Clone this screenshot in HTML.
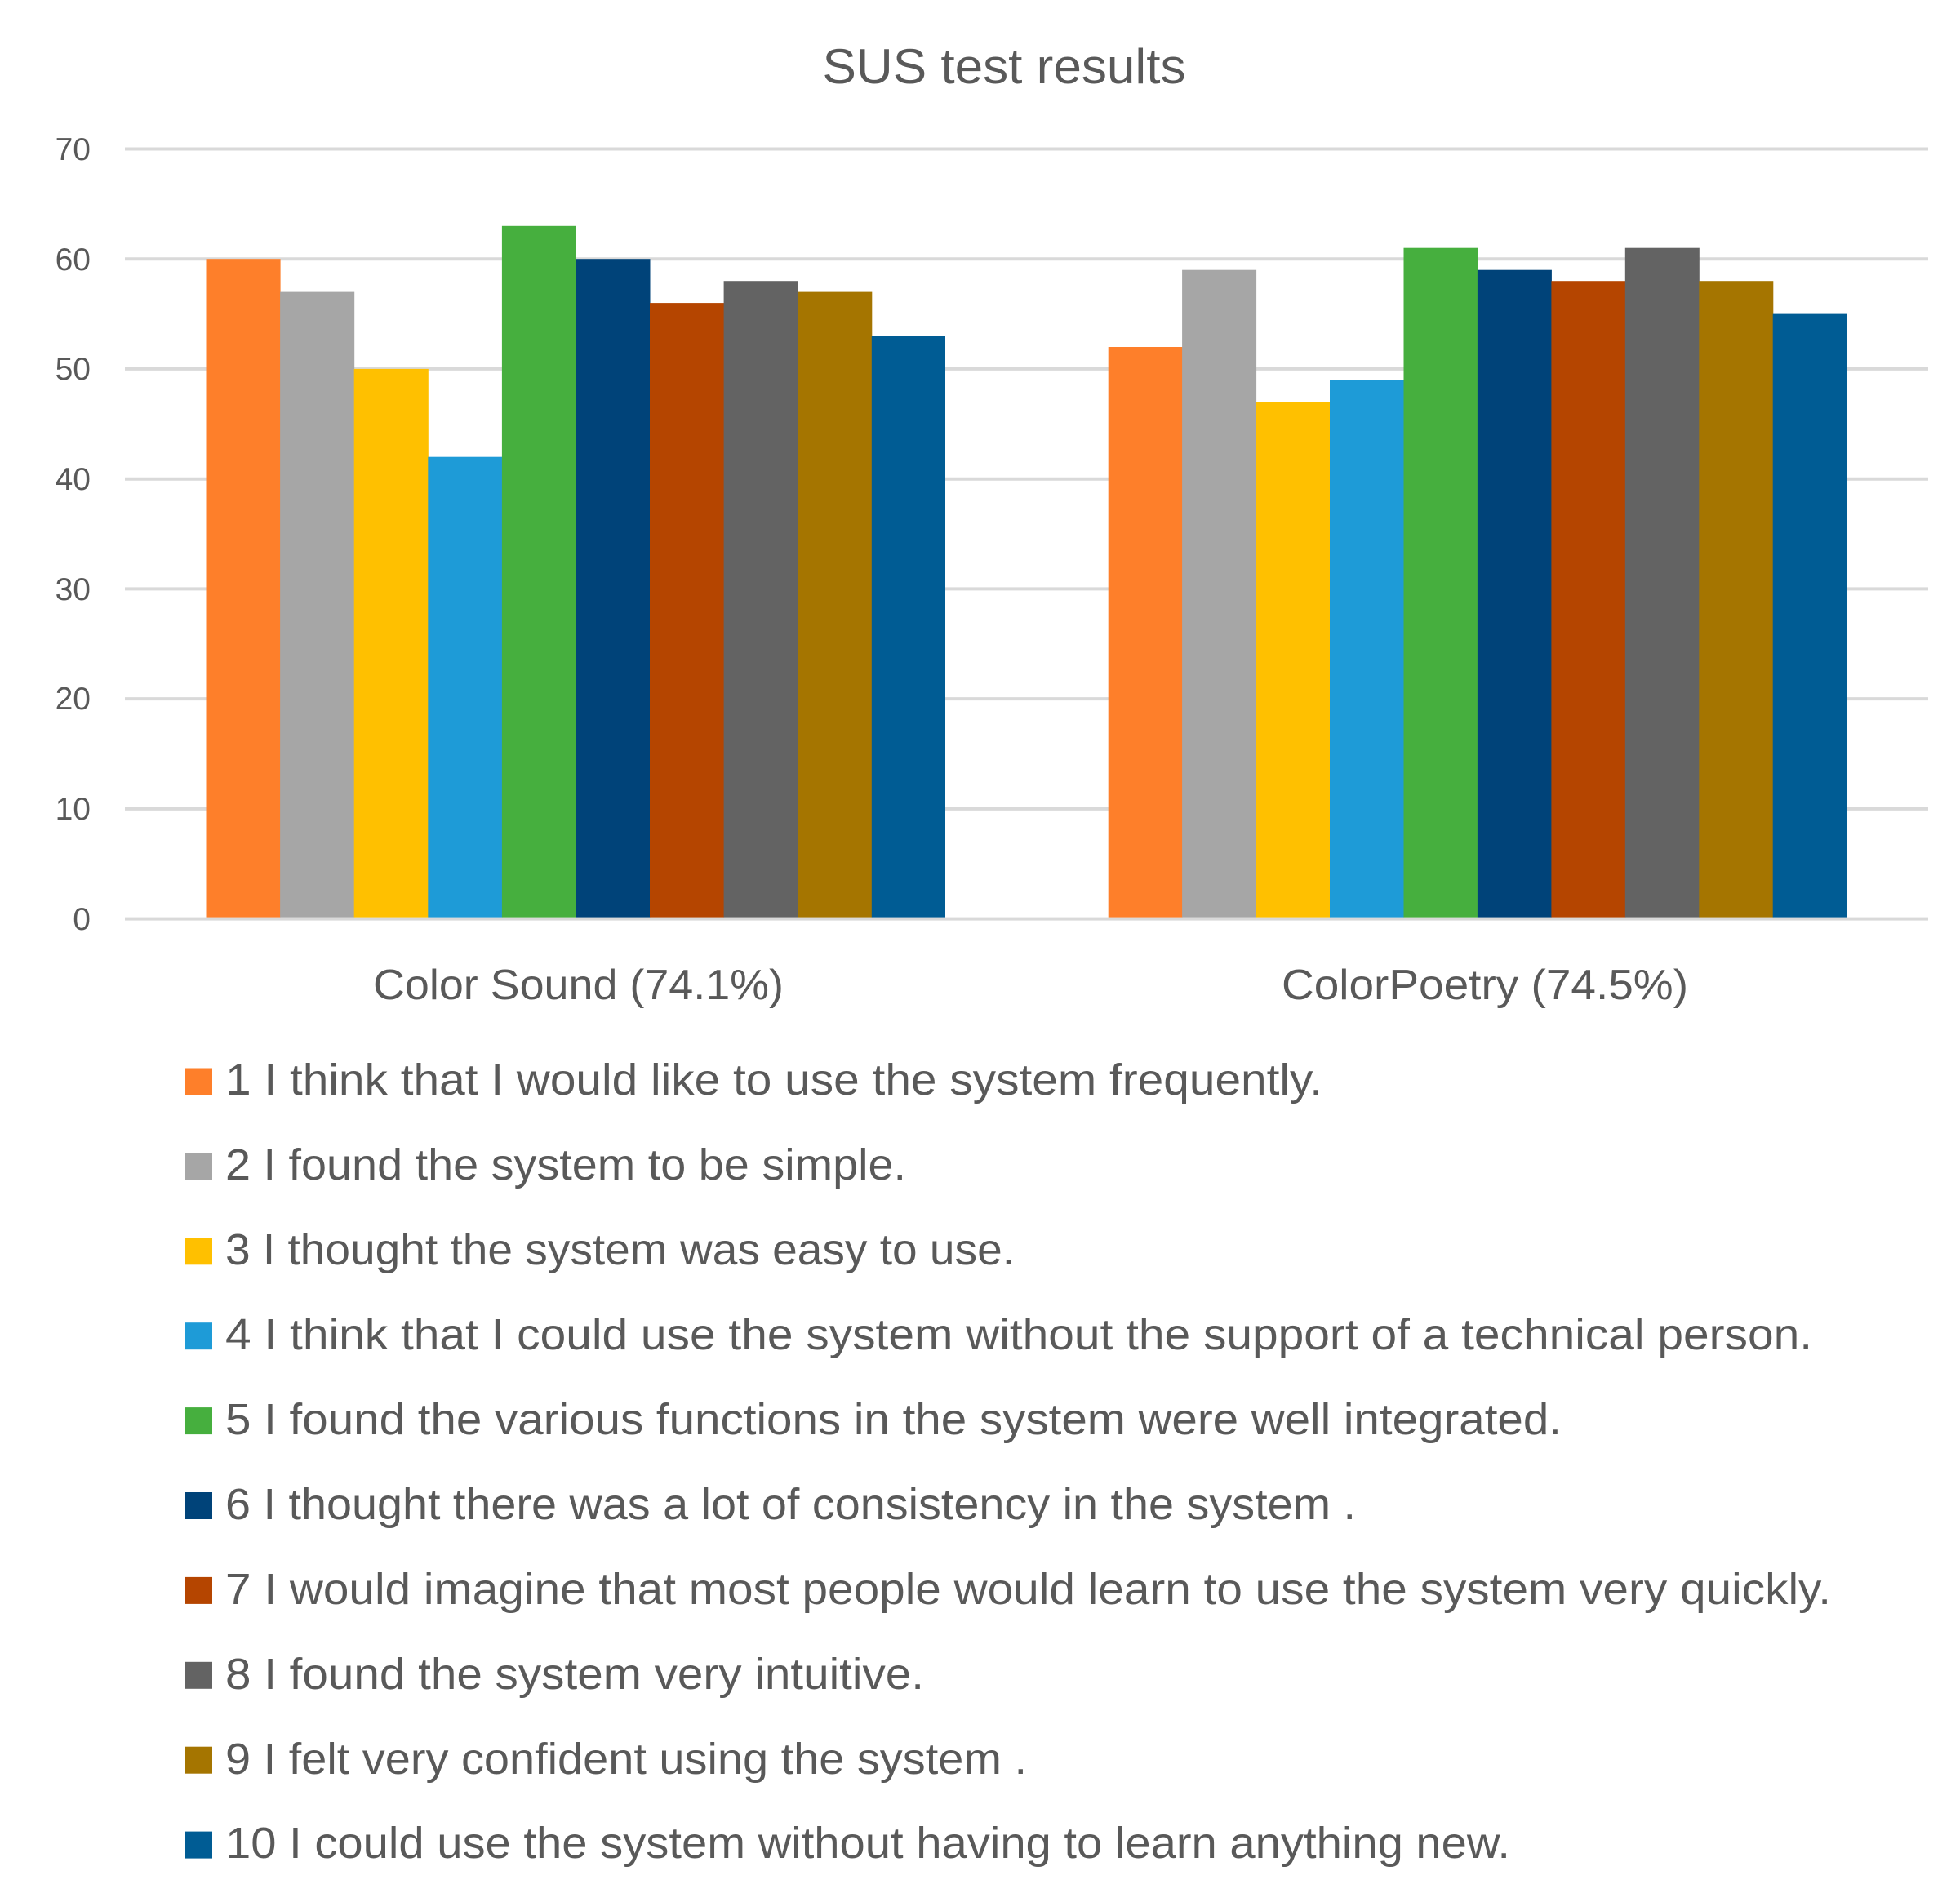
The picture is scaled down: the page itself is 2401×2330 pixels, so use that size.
<!DOCTYPE html>
<html><head><meta charset="utf-8"><style>
html,body{margin:0;padding:0;background:#fff;}
svg{display:block;}
text{font-family:"Liberation Sans",sans-serif;fill:#595959;}
</style></head><body>
<svg width="2401" height="2330" viewBox="0 0 2401 2330" xmlns="http://www.w3.org/2000/svg">
<rect width="2401" height="2330" fill="#fff"/>
<text x="1230" y="102" font-size="60" text-anchor="middle" textLength="445" lengthAdjust="spacingAndGlyphs">SUS test results</text>
<g stroke="#d9d9d9" stroke-width="4">
<line x1="153" x2="2362" y1="182.5" y2="182.5"/>
<line x1="153" x2="2362" y1="317.2" y2="317.2"/>
<line x1="153" x2="2362" y1="451.9" y2="451.9"/>
<line x1="153" x2="2362" y1="586.7" y2="586.7"/>
<line x1="153" x2="2362" y1="721.4" y2="721.4"/>
<line x1="153" x2="2362" y1="856.1" y2="856.1"/>
<line x1="153" x2="2362" y1="990.9" y2="990.9"/>
<line x1="153" x2="2362" y1="1125.6" y2="1125.6"/>
</g>
<g font-size="39" text-anchor="end">
<text x="111" y="196">70</text>
<text x="111" y="331">60</text>
<text x="111" y="465">50</text>
<text x="111" y="600">40</text>
<text x="111" y="735">30</text>
<text x="111" y="869">20</text>
<text x="111" y="1004">10</text>
<text x="111" y="1139">0</text>
</g>
<rect x="252.5" y="317.2" width="91.1" height="806.4" fill="#FE7F2A"/>
<rect x="343.1" y="357.6" width="91.1" height="766" fill="#A6A6A6"/>
<rect x="433.7" y="451.9" width="91.1" height="671.7" fill="#FFC000"/>
<rect x="524.3" y="559.7" width="91.1" height="563.9" fill="#1E9BD7"/>
<rect x="614.9" y="276.8" width="91.1" height="846.8" fill="#46AF3E"/>
<rect x="705.4" y="317.2" width="91.1" height="806.4" fill="#004379"/>
<rect x="796" y="371.1" width="91.1" height="752.5" fill="#B54500"/>
<rect x="886.6" y="344.2" width="91.1" height="779.4" fill="#636363"/>
<rect x="977.2" y="357.6" width="91.1" height="766" fill="#A57500"/>
<rect x="1067.8" y="411.5" width="90.2" height="712.1" fill="#005C94"/>
<rect x="1357.7" y="425" width="91" height="698.6" fill="#FE7F2A"/>
<rect x="1448.1" y="330.7" width="91" height="792.9" fill="#A6A6A6"/>
<rect x="1538.6" y="492.3" width="91" height="631.3" fill="#FFC000"/>
<rect x="1629" y="465.4" width="91" height="658.2" fill="#1E9BD7"/>
<rect x="1719.5" y="303.7" width="91" height="819.9" fill="#46AF3E"/>
<rect x="1809.9" y="330.7" width="91" height="792.9" fill="#004379"/>
<rect x="1900.4" y="344.2" width="91" height="779.4" fill="#B54500"/>
<rect x="1990.8" y="303.7" width="91" height="819.9" fill="#636363"/>
<rect x="2081.3" y="344.2" width="91" height="779.4" fill="#A57500"/>
<rect x="2171.7" y="384.6" width="90.3" height="739" fill="#005C94"/>
<g font-size="52" text-anchor="start">
<text x="457" y="1224" textLength="503" lengthAdjust="spacingAndGlyphs">Color Sound (74.1%)</text>
<text x="1570" y="1224" textLength="498" lengthAdjust="spacingAndGlyphs">ColorPoetry (74.5%)</text>
</g>
<g>
<rect x="227" y="1308.5" width="33" height="33" fill="#FE7F2A"/>
<rect x="227" y="1412.4" width="33" height="33" fill="#A6A6A6"/>
<rect x="227" y="1516.3" width="33" height="33" fill="#FFC000"/>
<rect x="227" y="1620.2" width="33" height="33" fill="#1E9BD7"/>
<rect x="227" y="1724.1" width="33" height="33" fill="#46AF3E"/>
<rect x="227" y="1828" width="33" height="33" fill="#004379"/>
<rect x="227" y="1931.9" width="33" height="33" fill="#B54500"/>
<rect x="227" y="2035.8" width="33" height="33" fill="#636363"/>
<rect x="227" y="2139.7" width="33" height="33" fill="#A57500"/>
<rect x="227" y="2243.6" width="33" height="33" fill="#005C94"/>
</g>
<g font-size="54" xml:space="preserve">
<text x="276" y="1341" textLength="1344" lengthAdjust="spacingAndGlyphs">1 I think that I would like to use the system frequently.</text>
<text x="276" y="1445" textLength="834" lengthAdjust="spacingAndGlyphs">2 I found the system to be simple.</text>
<text x="276" y="1549" textLength="967" lengthAdjust="spacingAndGlyphs">3 I thought the system was easy to use.</text>
<text x="276" y="1653" textLength="1944" lengthAdjust="spacingAndGlyphs">4 I think that I could use the system  without the support of a technical person.</text>
<text x="276" y="1757" textLength="1637" lengthAdjust="spacingAndGlyphs">5 I found the various functions in the system were well integrated.</text>
<text x="276" y="1861" textLength="1385" lengthAdjust="spacingAndGlyphs">6 I thought there was a lot of consistency in the system .</text>
<text x="276" y="1965" textLength="1967" lengthAdjust="spacingAndGlyphs">7 I would imagine that most people would learn to use the system  very quickly.</text>
<text x="276" y="2069" textLength="856" lengthAdjust="spacingAndGlyphs">8 I found the system very intuitive.</text>
<text x="276" y="2173" textLength="982" lengthAdjust="spacingAndGlyphs">9 I felt very confident using the system .</text>
<text x="276" y="2276" textLength="1574" lengthAdjust="spacingAndGlyphs">10 I could use the system without having to learn anything new.</text>
</g>
</svg>
</body></html>
